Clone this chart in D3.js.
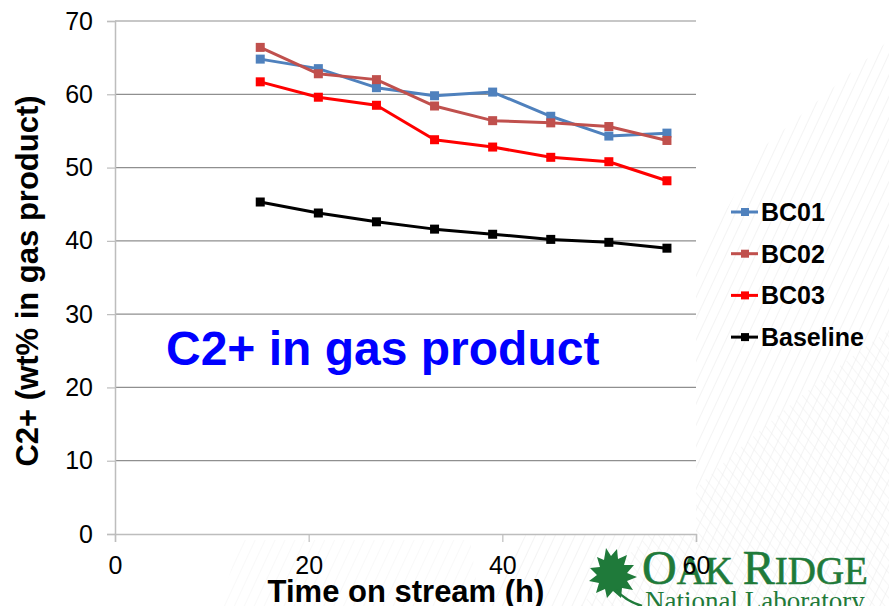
<!DOCTYPE html>
<html>
<head>
<meta charset="utf-8">
<script src="https://cdn.jsdelivr.net/npm/d3@7/dist/d3.min.js"></script>
<style>
  html, body { margin: 0; padding: 0; background: #ffffff; }
  svg { display: block; }
</style>
</head>
<body>
<svg id="chart" width="889" height="606"></svg>
<script>
// ---- data ----
const timeOnStream = [15, 21, 27, 33, 39, 45, 51, 57];
const bc01 = [64.8, 63.5, 60.9, 59.8, 60.3, 57.0, 54.3, 54.7];
const bc02 = [66.4, 62.8, 62.0, 58.4, 56.4, 56.1, 55.6, 53.7];
const bc03 = [61.7, 59.6, 58.5, 53.8, 52.8, 51.4, 50.8, 48.2];
const baseline = [45.3, 43.8, 42.6, 41.6, 40.9, 40.2, 39.8, 39.0];
const seriesNames = ["BC01", "BC02", "BC03", "Baseline"];
const xTicks = [0, 20, 40, 60];
const yTicks = [0, 10, 20, 30, 40, 50, 60, 70];

const seriesValues = [bc01, bc02, bc03, baseline];
const colors = ["#4F81BD", "#C0504D", "#FF0000", "#000000"];

const SANS = '"Liberation Sans", Arial, sans-serif';
const SERIF = '"Liberation Serif", "Times New Roman", serif';

const svg = d3.select("#chart");
const plot = { left: 115, right: 696, top: 21, bottom: 534 };

const x = d3.scaleLinear().domain([0, 60]).range([plot.left, plot.right]);
const y = d3.scaleLinear().domain([0, 70]).range([plot.bottom, plot.top]);

// ---- background decoration (faint hatch as in slide template) ----
const defs = svg.append("defs");
const pat = defs.append("pattern").attr("id", "hatch").attr("patternUnits", "userSpaceOnUse")
  .attr("width", 9).attr("height", 9).attr("patternTransform", "rotate(25)");
pat.append("line").attr("x1", 0).attr("y1", 0).attr("x2", 0).attr("y2", 9)
  .attr("stroke", "#e6e6e6").attr("stroke-width", 1);
const pat2 = defs.append("pattern").attr("id", "hatch2").attr("patternUnits", "userSpaceOnUse")
  .attr("width", 8).attr("height", 8).attr("patternTransform", "rotate(-40)");
pat2.append("line").attr("x1", 0).attr("y1", 0).attr("x2", 0).attr("y2", 8)
  .attr("stroke", "#ececec").attr("stroke-width", 1);

svg.append("path").attr("d", "M480,606 C560,480 660,330 760,150 L889,40 L889,606 Z")
  .attr("fill", "url(#hatch)").attr("opacity", 0.9);
svg.append("path").attr("d", "M580,606 C660,520 760,420 889,330 L889,606 Z")
  .attr("fill", "url(#hatch2)").attr("opacity", 0.9);
svg.append("path").attr("d", "M220,606 L240,540 L470,540 L480,606 Z")
  .attr("fill", "url(#hatch)").attr("opacity", 0.5);

// plot area white
svg.append("rect").attr("x", plot.left).attr("y", plot.top)
  .attr("width", plot.right - plot.left).attr("height", plot.bottom - plot.top)
  .attr("fill", "#ffffff");

// ---- gridlines ----
svg.append("g").selectAll("line").data(yTicks.filter(d => d > 0)).join("line")
  .attr("x1", plot.left).attr("x2", plot.right)
  .attr("y1", d => y(d)).attr("y2", d => y(d))
  .attr("stroke", "#8f8f8f").attr("stroke-width", 1.2);

// ---- axes ----
const yAxis = d3.axisLeft(y).tickValues(yTicks).tickSize(8).tickPadding(14).tickFormat(d3.format("d"));
const gy = svg.append("g").attr("transform", `translate(${plot.left},0)`).call(yAxis);
gy.select(".domain").attr("stroke", "#bdbdbd").attr("stroke-width", 1.5);
gy.selectAll(".tick line").attr("stroke", "#bdbdbd").attr("stroke-width", 1.2);
gy.selectAll(".tick text").attr("font-size", 25).attr("fill", "#000").style("font-family", SANS);

// ---- Oak Ridge logo (decoration) ----
const logo = svg.append("g");
logo.append("path")
  .attr("d", "M606,548 L611,556 L617,549 L618,559 L627,555 L624,565 L634,565 L627,573 L637,577 L627,581 L633,590 L622,588 L621,598 L613,591 L607,598 L605,589 L596,593 L599,583 L589,581 L597,575 L590,568 L600,567 L597,557 L604,560 Z")
  .attr("fill", "#1f7a3a");
logo.append("path").attr("d", "M616,590 Q626,601 642,606").attr("stroke", "#1f7a3a")
  .attr("stroke-width", 2.5).attr("fill", "none");
const lt = logo.append("text").attr("x", 642).attr("y", 584).style("font-family", SERIF)
  .attr("fill", "#1f7a3a").attr("stroke", "#1f7a3a").attr("stroke-width", 0.6);
lt.append("tspan").attr("font-size", 48).text("O");
lt.append("tspan").attr("font-size", 39).text("AK ");
lt.append("tspan").attr("font-size", 48).text("R");
lt.append("tspan").attr("font-size", 39).text("IDGE");
logo.append("text").attr("x", 645).attr("y", 610).style("font-family", SERIF)
  .attr("fill", "#1f7a3a").attr("font-size", 27).text("National Laboratory");

// x axis drawn after logo so "60" sits on top, as in the reference
const xAxis = d3.axisBottom(x).tickValues(xTicks).tickSize(8).tickPadding(14).tickFormat(d3.format("d"));
const gx = svg.append("g").attr("transform", `translate(0,${plot.bottom})`).call(xAxis);
gx.select(".domain").attr("stroke", "#bdbdbd").attr("stroke-width", 1.5);
gx.selectAll(".tick line").attr("stroke", "#bdbdbd").attr("stroke-width", 1.2);
gx.selectAll(".tick text").attr("font-size", 25).attr("fill", "#000").style("font-family", SANS);

// ---- series ----
const line = d3.line().x((d, i) => x(timeOnStream[i])).y(d => y(d));
seriesValues.forEach((vals, si) => {
  const g = svg.append("g");
  g.append("path").attr("d", line(vals)).attr("fill", "none")
    .attr("stroke", colors[si]).attr("stroke-width", 3).attr("stroke-linejoin", "round");
  g.selectAll("rect").data(vals).join("rect")
    .attr("x", (d, i) => x(timeOnStream[i]) - 4.5).attr("y", d => y(d) - 4.5)
    .attr("width", 9).attr("height", 9).attr("fill", colors[si]);
});

// ---- legend ----
const legend = svg.append("g");
seriesNames.forEach((name, i) => {
  const cy = 212 + i * 41.7;
  legend.append("line").attr("x1", 731).attr("x2", 758).attr("y1", cy).attr("y2", cy)
    .attr("stroke", colors[i]).attr("stroke-width", 3);
  legend.append("rect").attr("x", 741).attr("y", cy - 4).attr("width", 8).attr("height", 8)
    .attr("fill", colors[i]);
  legend.append("text").attr("x", 761).attr("y", cy + 9).attr("font-size", 25)
    .style("font-family", SANS).attr("font-weight", "bold").attr("fill", "#000").text(name);
});

// ---- titles ----
svg.append("text").attr("x", 166).attr("y", 365).attr("font-size", 48).style("font-family", SANS)
  .attr("font-weight", "bold").attr("fill", "#0000FF").text("C2+ in gas product");

svg.append("text").attr("x", 406).attr("y", 602).attr("text-anchor", "middle").style("font-family", SANS)
  .attr("font-size", 31).attr("font-weight", "bold").attr("fill", "#000")
  .text("Time on stream (h)");

svg.append("text").attr("transform", "translate(38,281) rotate(-90)").style("font-family", SANS)
  .attr("text-anchor", "middle").attr("font-size", 31).attr("font-weight", "bold")
  .attr("fill", "#000").text("C2+ (wt% in gas product)");
</script>
</body>
</html>
